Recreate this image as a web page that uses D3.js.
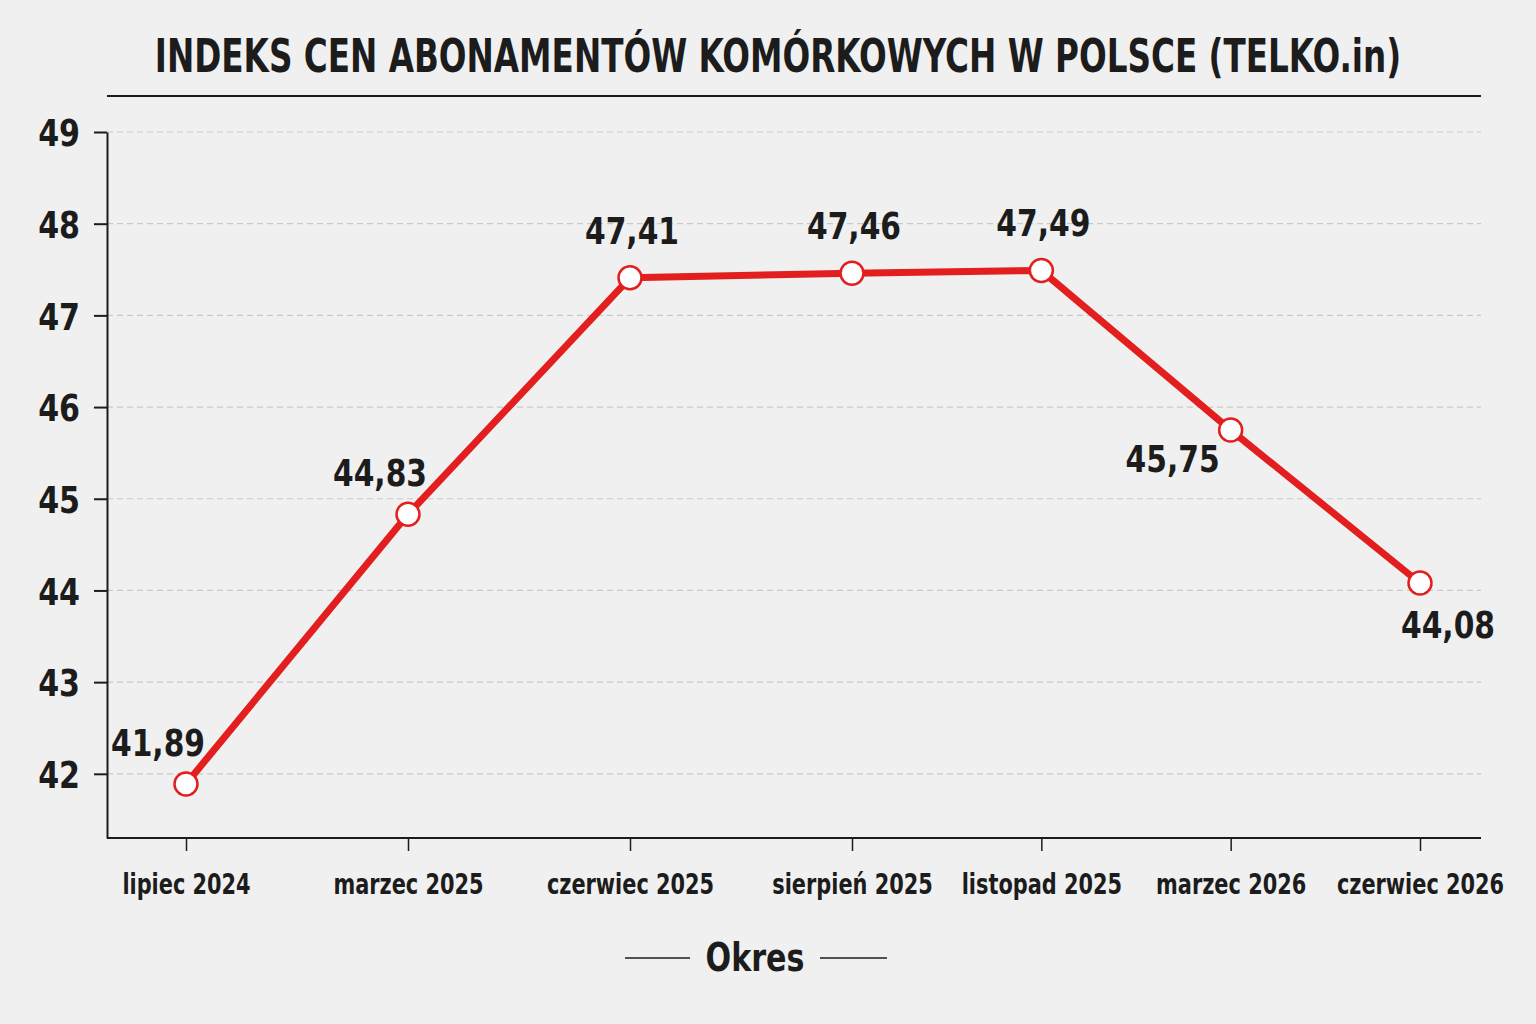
<!DOCTYPE html>
<html>
<head>
<meta charset="utf-8">
<script src="https://cdn.jsdelivr.net/npm/d3@7"></script>
<style>
  html, body { margin: 0; padding: 0; background: #f0f0f0; }
  svg { display: block; }
  text { font-family: "DejaVu Sans Condensed", "DejaVu Sans", sans-serif; font-weight: 700; fill: #1c1c1c; }
</style>
</head>
<body>
<svg id="chart" width="1536" height="1024"></svg>
<script>
// ---- data ----
const categories = ["lipiec 2024", "marzec 2025", "czerwiec 2025", "sierpień 2025", "listopad 2025", "marzec 2026", "czerwiec 2026"];
const values = [41.89, 44.83, 47.41, 47.46, 47.49, 45.75, 44.08];
const yTicks = [42, 43, 44, 45, 46, 47, 48, 49];
const titleText = "INDEKS CEN ABONAMENTÓW KOMÓRKOWYCH W POLSCE (TELKO.in)";
const xAxisTitle = "Okres";

// ---- layout ----
const W = 1536, H = 1024;
const plot = { left: 107, right: 1481, top: 132, bottom: 838 };
const red = "#e31e1e";
const ink = "#1c1c1c";

// horizontally condense text (narrow typeface look) around its own x position
function squeeze(sel, sx) {
  sel.each(function () {
    const t = d3.select(this);
    const x0 = +(t.attr("x") || 0);
    t.attr("x", x0 / sx).attr("transform", `scale(${sx},1)`);
  });
}

const svg = d3.select("#chart");
svg.append("rect").attr("width", W).attr("height", H).attr("fill", "#f0f0f0");

const idx = d3.range(categories.length);
const x = d3.scaleLinear()
  .domain([0, 3, categories.length - 1])
  .range([plot.left + 79, 852, plot.right - 61]);
const y = d3.scaleLinear().domain([41.3, 49]).range([plot.bottom, plot.top]);

// title
const title = svg.append("text")
  .attr("x", 778).attr("y", 72)
  .attr("text-anchor", "middle")
  .style("font-size", "47px")
  .text(titleText);
const tw = title.node().getComputedTextLength();
squeeze(title, 1247 / tw);
svg.append("line")
  .attr("x1", plot.left).attr("x2", plot.right)
  .attr("y1", 96).attr("y2", 96)
  .attr("stroke", ink).attr("stroke-width", 2);

// gridlines
svg.append("g").selectAll("line").data(yTicks).join("line")
  .attr("x1", plot.left).attr("x2", plot.right)
  .attr("y1", d => y(d)).attr("y2", d => y(d))
  .attr("stroke", "#c9c9c9").attr("stroke-width", 1.2)
  .attr("stroke-dasharray", "6,4");

// y axis
const yAxis = svg.append("g")
  .attr("transform", `translate(${plot.left},0)`)
  .call(d3.axisLeft(y).tickValues(yTicks).tickSize(13).tickSizeOuter(0).tickPadding(14).tickFormat(d3.format("d")));
yAxis.select(".domain").attr("stroke", ink).attr("stroke-width", 2);
yAxis.selectAll(".tick line").attr("stroke", ink).attr("stroke-width", 2);
yAxis.selectAll(".tick text").style("font-size", "38px").attr("fill", ink).attr("dy", "0.36em");
squeeze(yAxis.selectAll(".tick text"), 0.88);

// x axis
svg.append("line")
  .attr("x1", plot.left).attr("x2", plot.right)
  .attr("y1", plot.bottom).attr("y2", plot.bottom)
  .attr("stroke", ink).attr("stroke-width", 2);
const xAxis = svg.append("g")
  .attr("transform", `translate(0,${plot.bottom})`)
  .call(d3.axisBottom(x).tickValues(idx).tickSize(13).tickSizeOuter(0).tickPadding(22)
    .tickFormat(i => categories[i]));
xAxis.select(".domain").remove();
xAxis.selectAll(".tick line").attr("stroke", ink).attr("stroke-width", 1.5);
xAxis.selectAll(".tick text").style("font-size", "29px").attr("fill", ink).attr("dy", "0.71em");
squeeze(xAxis.selectAll(".tick text"), 0.8);

// x axis title
const okX = 755, okY = 958;
const ok = svg.append("text")
  .attr("x", okX).attr("y", okY + 13)
  .attr("text-anchor", "middle")
  .style("font-size", "39px")
  .text(xAxisTitle);
squeeze(ok, 0.86);
svg.append("line").attr("x1", okX - 130).attr("x2", okX - 65).attr("y1", okY).attr("y2", okY)
  .attr("stroke", ink).attr("stroke-width", 1.6);
svg.append("line").attr("x1", okX + 65).attr("x2", okX + 132).attr("y1", okY).attr("y2", okY)
  .attr("stroke", ink).attr("stroke-width", 1.6);

// line
const line = d3.line().x((d, i) => x(i)).y(d => y(d));
svg.append("path")
  .datum(values)
  .attr("d", line)
  .attr("fill", "none")
  .attr("stroke", red)
  .attr("stroke-width", 7)
  .attr("stroke-linejoin", "round");

// points
svg.append("g").selectAll("circle").data(values).join("circle")
  .attr("cx", (d, i) => x(i)).attr("cy", d => y(d))
  .attr("r", 11.5)
  .attr("fill", "#ffffff")
  .attr("stroke", red)
  .attr("stroke-width", 2.5);

// value labels: placement derived from neighbouring slope
function placement(i) {
  const prev = i > 0 ? values[i - 1] : null;
  const next = i < values.length - 1 ? values[i + 1] : null;
  if (next !== null && next > values[i] + 1) return { dx: -28, dy: -28 }; // rising
  if (prev !== null && prev > values[i] + 1 && next !== null) return { dx: -58, dy: 42 }; // falling mid
  if (next === null && prev !== null && prev > values[i]) return { dx: 28, dy: 55 }; // falling end
  return { dx: 2, dy: -34 }; // plateau
}
const fmt = d => d.toFixed(2).replace(".", ",");
const vl = svg.append("g").selectAll("text").data(values).join("text")
  .attr("x", (d, i) => x(i) + placement(i).dx)
  .attr("y", (d, i) => y(d) + placement(i).dy)
  .attr("text-anchor", "middle")
  .style("font-size", "38px")
  .text(fmt);
squeeze(vl, 0.87);
</script>
</body>
</html>
